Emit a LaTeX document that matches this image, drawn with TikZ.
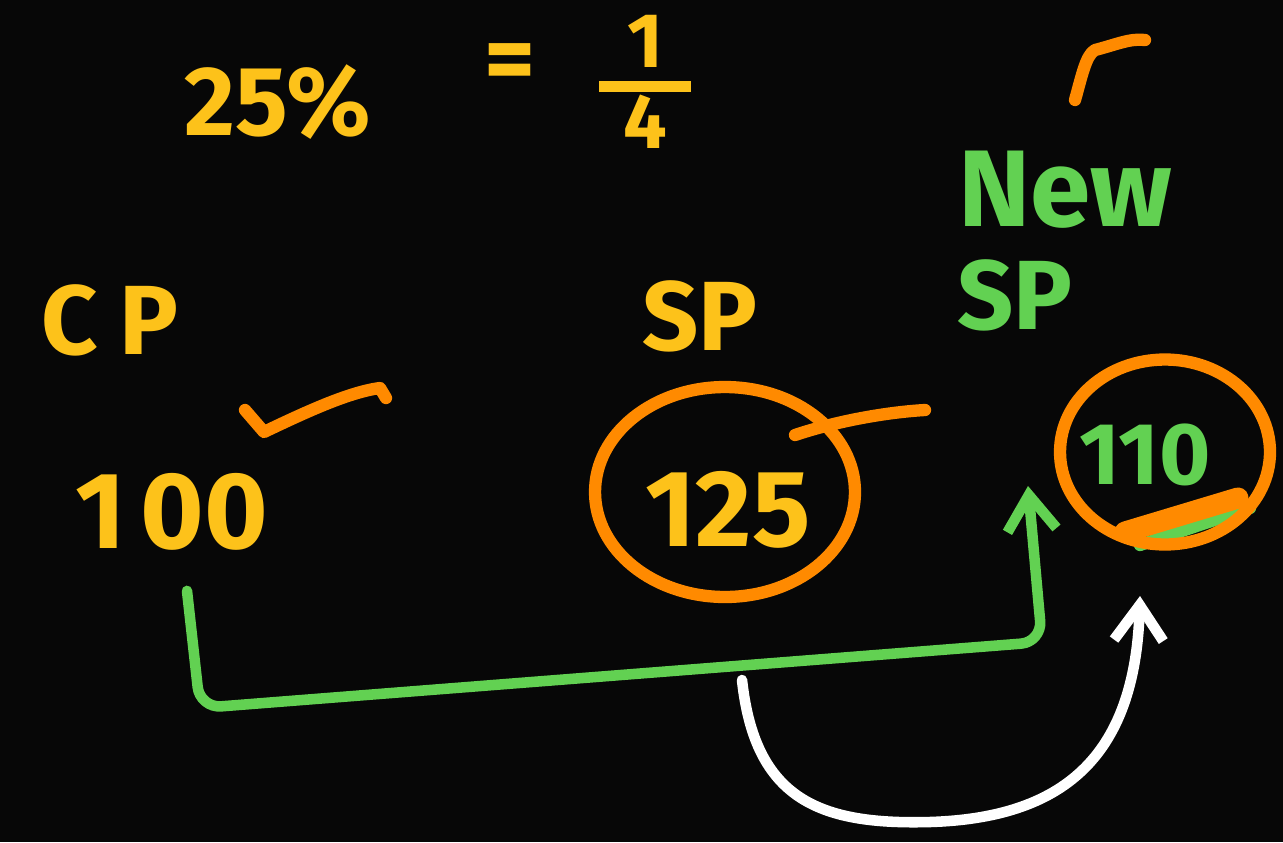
\documentclass[tikz,border=0pt]{standalone}
\usepackage{fontspec}
\setmainfont{Fira Sans}
\usetikzlibrary{positioning,shapes.geometric,arrows.meta}
\definecolor{chalkyellow}{HTML}{FDC21A}
\definecolor{chalkorange}{HTML}{FF8A00}
\definecolor{chalkgreen}{HTML}{62D152}
\definecolor{board}{HTML}{070707}
\setlength{\arrayrulewidth}{6pt}

\begin{document}
\begin{tikzpicture}[x=0.02cm, y=-0.02cm, line cap=round, line join=round]
  % Define styles
  \tikzstyle{yel} = [text=chalkyellow, inner sep=0pt, font=\bfseries\fontsize{56}{60}\selectfont]
  \tikzstyle{grn} = [text=chalkgreen, inner sep=0pt, font=\bfseries\fontsize{56}{60}\selectfont]
  \tikzstyle{ring} = [ellipse, draw=chalkorange, line width=7pt]
  \tikzstyle{orangestroke} = [draw=chalkorange, line width=7pt]
  \tikzstyle{gline} = [draw=chalkgreen, line width=6pt, rounded corners=12pt, -{Straight Barb[length=20pt, width=28pt]}]
  \tikzstyle{wline} = [draw=white, line width=6pt, -{Straight Barb[length=20pt, width=28pt]}]

  % Board
  \fill[board] (0,0) rectangle (1283,842);
  \useasboundingbox (0,0) rectangle (1283,842);

  % Place texts
  \node [yel] (pct) at (278,102) {25\%};
  \node [yel] (eq) at (510,68) {=};
  \node [yel, font=\bfseries\fontsize{44}{46}\selectfont] (quarter) at (645,92)
    {\begin{tabular}{@{\hspace{14pt}}c@{\hspace{14pt}}}1\\[-6pt]\hline 4\end{tabular}};
  \node [yel] (cp) at (110,320) {C\hspace{12pt}P};
  \node [yel] (sp) at (700,316) {SP};
  \node [grn, font=\bfseries\fontsize{62}{66}\selectfont] (new) at (1065,190) {New};
  \node [grn] (newsp) at (1015,295) {SP};
  \node [yel, font=\bfseries\fontsize{62}{66}\selectfont] (n100) at (172,512) {1\hspace{8pt}00};
  \node [yel, font=\bfseries\fontsize{62}{66}\selectfont] (n125) at (728,510) {125};
  \node [grn, font=\bfseries\fontsize{50}{54}\selectfont] (n110) at (1145,455) {110};

  % Rings and ticks
  \node [ring, minimum width=5.2cm, minimum height=4.2cm] (ring125) at (725,492) {};
  \draw [chalkgreen, line width=7pt] (1140,545) -- (1250,508);
  \node [ring, minimum width=4.2cm, minimum height=3.7cm] (ring110) at (1165,452) {};
  \draw [orangestroke, line width=12pt] (1125,532) -- (1238,498);
  \draw [orangestroke] (245,410) -- (264,432) .. controls (310,410) and (350,392) .. (380,388) -- (386,398);
  \draw [orangestroke] (795,435) .. controls (840,420) and (890,412) .. (925,410);
  \draw [orangestroke] (1075,100) .. controls (1082,75) and (1086,55) .. (1095,50) .. controls (1115,45) and (1130,38) .. (1145,40);

  % Draw lines
  \coordinate (tip110) at (1028,486);
  \coordinate (mid) at (742,680);
  \coordinate (low110) at (1140,596);
  \path [gline] (n100.south) ++(15,40) -- (200,708) -- (1042,642) -- (tip110);
  \path [wline] (mid) .. controls (755,800) and (820,825) .. (930,822) .. controls (1060,818) and (1135,760) .. (low110);
\end{tikzpicture}
\end{document}
